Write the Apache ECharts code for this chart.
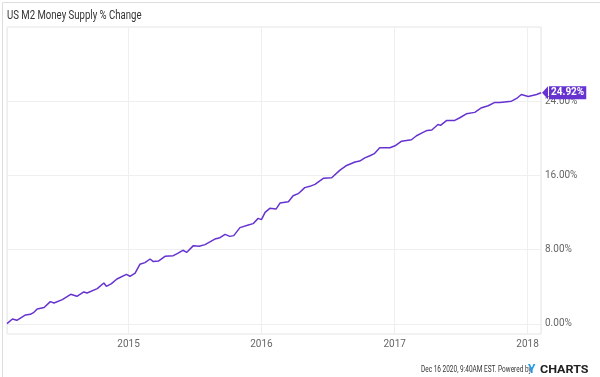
<!DOCTYPE html>
<html><head><meta charset="utf-8">
<script src="https://cdn.jsdelivr.net/npm/echarts@6/dist/echarts.min.js"></script>
<style>html,body{margin:0;padding:0;background:#fff}#c{width:600px;height:377px}</style>
</head><body><div id="c"></div>
<script>
const dates = ['2014-02-01','2014-02-16','2014-02-28','2014-03-12','2014-03-24','2014-04-06','2014-04-16','2014-04-25','2014-05-14','2014-05-31','2014-06-10','2014-07-03','2014-07-26','2014-08-12','2014-08-31','2014-09-09','2014-10-07','2014-10-25','2014-11-01','2014-11-15','2014-11-30','2014-12-26','2015-01-05','2015-01-19','2015-02-01','2015-02-15','2015-03-01','2015-03-10','2015-03-24','2015-04-11','2015-05-04','2015-05-17','2015-05-30','2015-06-10','2015-06-28','2015-07-14','2015-07-30','2015-08-26','2015-09-09','2015-09-23','2015-10-06','2015-10-17','2015-11-03','2015-11-26','2015-12-09','2015-12-23','2016-01-01','2016-01-11','2016-01-24','2016-02-10','2016-02-21','2016-03-15','2016-03-28','2016-04-11','2016-04-29','2016-05-13','2016-05-27','2016-06-19','2016-07-12','2016-08-03','2016-08-22','2016-09-14','2016-09-27','2016-10-11','2016-10-25','2016-11-06','2016-11-21','2016-12-19','2017-01-02','2017-01-20','2017-02-16','2017-03-02','2017-03-16','2017-03-31','2017-04-13','2017-04-30','2017-05-07','2017-05-24','2017-06-15','2017-06-29','2017-07-04','2017-07-17','2017-08-09','2017-08-28','2017-09-15','2017-10-03','2017-10-17','2017-11-18','2017-12-02','2017-12-15','2018-01-03','2018-01-26','2018-02-07'];
const values = [0.04,0.54,0.40,0.69,0.97,1.04,1.26,1.62,1.77,2.41,2.26,2.63,3.20,2.98,3.45,3.34,3.81,4.41,4.06,4.35,4.85,5.35,5.14,5.49,6.43,6.61,7.00,6.72,6.78,7.29,7.36,7.64,7.94,7.72,8.44,8.37,8.55,9.15,9.30,9.66,9.44,9.52,10.38,10.66,10.81,11.38,11.24,12.03,12.46,12.38,13.03,13.18,13.82,14.04,14.69,14.83,15.04,15.69,15.76,16.55,17.08,17.45,17.55,17.90,18.13,18.35,18.99,18.99,19.20,19.70,19.85,20.28,20.57,20.86,20.90,21.50,21.40,21.93,21.93,22.22,22.10,22.65,22.80,23.30,23.51,23.87,23.87,24.01,24.30,24.73,24.52,24.73,24.92];
const yTicks = [0, 8, 16, 24];
const title = 'US M2 Money Supply % Change';
const footer = 'Dec 16 2020, 9:40AM EST. Powered by';

const purple = '#6633d0';
const chart = echarts.init(document.getElementById('c'));
chart.setOption({
  animation: false,
  textStyle: {fontFamily: 'Roboto'},
  grid: {left: 7, top: 27, right: 59, bottom: 43, show: true, borderColor: '#e4e4e4', borderWidth: 1},
  xAxis: {
    type: 'time', min: '2014-02-01', max: '2018-02-07',
    minInterval: 365 * 86400000, maxInterval: 366 * 86400000,
    axisLine: {show: false}, axisTick: {show: false},
    axisLabel: {formatter: '{yyyy}', color: '#666', fontSize: 10, margin: 5, showMinLabel: false, showMaxLabel: false},
    splitLine: {show: true, lineStyle: {color: '#efefef', width: 1}}
  },
  yAxis: {
    type: 'value', position: 'right', min: -1.08, max: 32, scale: true,
    axisLine: {show: false},
    axisTick: {show: false, customValues: yTicks},
    axisLabel: {customValues: yTicks, color: '#666', fontSize: 10, margin: 4, formatter: v => v.toFixed(2) + '%'},
    splitLine: {show: true, lineStyle: {color: '#efefef', width: 1}}
  },
  series: [{
    type: 'line', showSymbol: false, symbol: 'none',
    data: dates.map((d, i) => [d, values[i]]),
    lineStyle: {color: purple, width: 1.5},
    endLabel: {show: true, formatter: p => p.value[1].toFixed(2) + '%', color: '#fff', fontWeight: 'bold', fontSize: 10,
      backgroundColor: purple, padding: [2, 2, 1, 2], offset: [0, 0]},
    markPoint: {
      symbol: 'triangle', symbolSize: [13, 6], symbolRotate: 90, symbolOffset: [4, 0], silent: true,
      itemStyle: {color: purple}, label: {show: false},
      data: [{coord: [dates[dates.length - 1], values[values.length - 1]]}]
    }
  }],
  graphic: [
    {type: 'rect', left: 0, top: 0, shape: {width: 599, height: 376}, style: {fill: 'none', stroke: '#dddddd', lineWidth: 1}, silent: true},
    {type: 'text', x: 7, y: 10, scaleX: 0.8, style: {x: 0, y: 0, text: title, fill: '#333', font: '12px Roboto', verticalAlign: 'top'}},
    {type: 'text', x: 421, y: 365, scaleX: 0.72, style: {x: 0, y: 0, text: footer, fill: '#333', font: '9px Roboto', verticalAlign: 'top'}},
    {type: 'text', x: 528, y: 364, style: {x: 0, y: 0, text: 'Y', fill: '#1e9cf0', font: 'bold 12px Roboto', verticalAlign: 'top'}},
    {type: 'text', x: 540, y: 365, scaleX: 1.25, style: {x: 0, y: 0, text: 'CHARTS', fill: '#222', font: 'bold 10px Roboto', verticalAlign: 'top'}}
  ]
});
</script></body></html>
